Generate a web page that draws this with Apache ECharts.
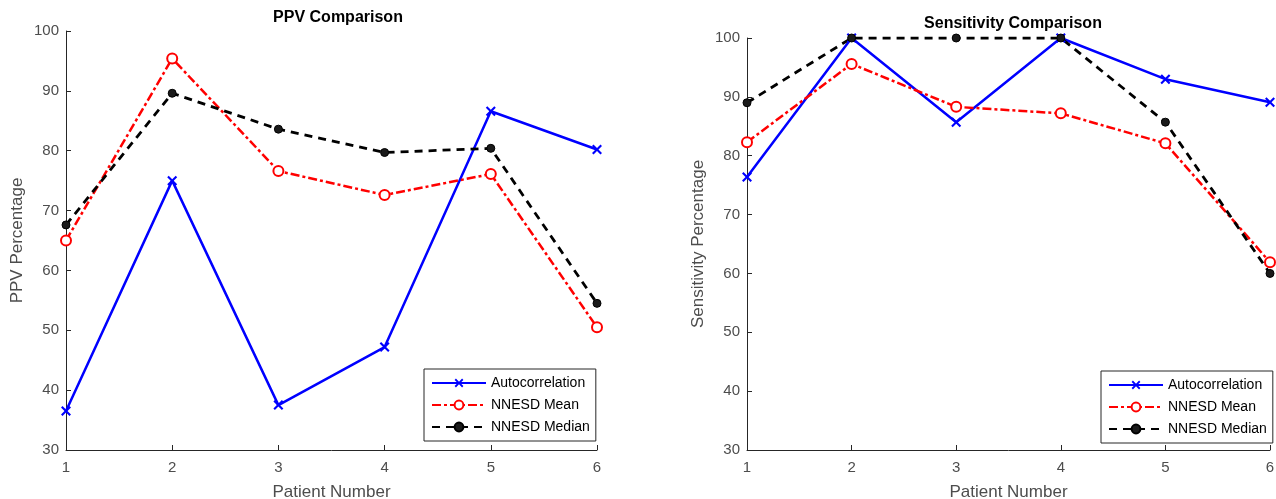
<!DOCTYPE html>
<html>
<head>
<meta charset="utf-8">
<script src="https://cdn.jsdelivr.net/npm/echarts@6/dist/echarts.min.js"></script>
<style>
html, body { margin: 0; padding: 0; background: #fff; }
#chart { width: 1276px; height: 499px; }
</style>
</head>
<body>
<div id="chart"></div>
<script>
// patient numbers on the x axis
const patients = ['1', '2', '3', '4', '5', '6']
const seriesNames = ['Autocorrelation', 'NNESD Mean', 'NNESD Median']

// PPV (%)
const ppvAuto = [36.5, 75.0, 37.5, 47.2, 86.6, 80.2]
const ppvMean = [65.0, 95.4, 76.6, 72.6, 76.1, 50.5]
const ppvMedian = [67.6, 89.6, 83.6, 79.7, 80.4, 54.5]

// Sensitivity (%)
const sensAuto = [76.4, 100, 85.7, 100, 93.0, 89.1]
const sensMean = [82.3, 95.6, 88.3, 87.2, 82.1, 61.9]
const sensMedian = [89.0, 100, 100, 100, 85.7, 60.0]

const font = 'Liberation Sans, Arial, Helvetica, sans-serif'
const axisColor = '#262626'
const labelColor = '#4d4d4d'
const crossPath = 'path://M0,1.5L1.5,0L5,3.5L8.5,0L10,1.5L6.5,5L10,8.5L8.5,10L5,6.5L1.5,10L0,8.5L3.5,5Z'

function xAxisFor(gridIndex) {
    return {
        type: 'category',
        gridIndex: gridIndex,
        data: patients,
        boundaryGap: false,
        name: 'Patient Number',
        nameLocation: 'middle',
        nameGap: 34,
        nameTextStyle: { fontFamily: font, fontSize: 17, color: labelColor },
        axisLine: { lineStyle: { color: axisColor, width: 1 } },
        axisTick: { inside: true, length: 5, lineStyle: { color: axisColor } },
        axisLabel: { fontFamily: font, fontSize: 15, color: labelColor, margin: 10 },
        splitLine: { show: false }
    }
}

function yAxisFor(gridIndex, name) {
    return {
        type: 'value',
        gridIndex: gridIndex,
        min: 30,
        max: 100,
        interval: 10,
        name: name,
        nameLocation: 'middle',
        nameGap: 40,
        nameTextStyle: { fontFamily: font, fontSize: 17, color: labelColor },
        axisLine: { show: true, lineStyle: { color: axisColor, width: 1 } },
        axisTick: { show: true, inside: true, length: 5, lineStyle: { color: axisColor } },
        axisLabel: { fontFamily: font, fontSize: 15, color: labelColor, margin: 7 },
        splitLine: { show: false }
    }
}

function linesFor(idx, auto, mean, median) {
    return [{
        name: seriesNames[0],
        type: 'line',
        xAxisIndex: idx,
        yAxisIndex: idx,
        data: auto,
        symbol: crossPath,
        symbolSize: 10,
        showAllSymbol: true,
        itemStyle: { color: '#0000ff' },
        lineStyle: { color: '#0000ff', width: 2.5 },
        animation: false
    }, {
        name: seriesNames[1],
        type: 'line',
        xAxisIndex: idx,
        yAxisIndex: idx,
        data: mean,
        symbol: 'emptyCircle',
        symbolSize: 10,
        itemStyle: { color: '#ff0000', borderWidth: 2 },
        lineStyle: { color: '#ff0000', width: 2.5, type: [9, 3, 3, 3] },
        animation: false
    }, {
        name: seriesNames[2],
        type: 'line',
        xAxisIndex: idx,
        yAxisIndex: idx,
        data: median,
        symbol: 'circle',
        symbolSize: 8,
        itemStyle: { color: '#1a1a1a', borderColor: '#000', borderWidth: 1 },
        lineStyle: { color: '#000000', width: 2.8, type: [8, 6] },
        animation: false
    }]
}

function legendFor(left, top) {
    return {
        data: seriesNames,
        orient: 'vertical',
        left: left,
        top: top,
        itemWidth: 54,
        itemHeight: 11,
        itemGap: 8,
        padding: [7, 6, 7, 7],
        backgroundColor: '#fff',
        borderColor: '#262626',
        borderWidth: 1,
        borderRadius: 0,
        textStyle: { fontFamily: font, fontSize: 14, color: '#000' },
        selectedMode: false
    }
}

const chart = echarts.init(document.getElementById('chart'))
chart.setOption({
    backgroundColor: '#fff',
    animation: false,
    title: [{
        text: 'PPV Comparison',
        left: 333,
        top: 5,
        textAlign: 'center',
        textStyle: { fontFamily: font, fontSize: 16, fontWeight: 'bold', color: '#000' }
    }, {
        text: 'Sensitivity Comparison',
        left: 1008,
        top: 11,
        textAlign: 'center',
        textStyle: { fontFamily: font, fontSize: 16, fontWeight: 'bold', color: '#000' }
    }],
    legend: [legendFor(424, 369), legendFor(1101, 371)],
    grid: [
        { left: 66, right: 679, top: 31, bottom: 49, outerBoundsMode: 'none' },
        { left: 747, right: 6, top: 38, bottom: 49, outerBoundsMode: 'none' }
    ],
    xAxis: [xAxisFor(0), xAxisFor(1)],
    yAxis: [yAxisFor(0, 'PPV Percentage'), yAxisFor(1, 'Sensitivity Percentage')],
    series: [].concat(
        linesFor(0, ppvAuto, ppvMean, ppvMedian),
        linesFor(1, sensAuto, sensMean, sensMedian)
    )
})
</script>
</body>
</html>
